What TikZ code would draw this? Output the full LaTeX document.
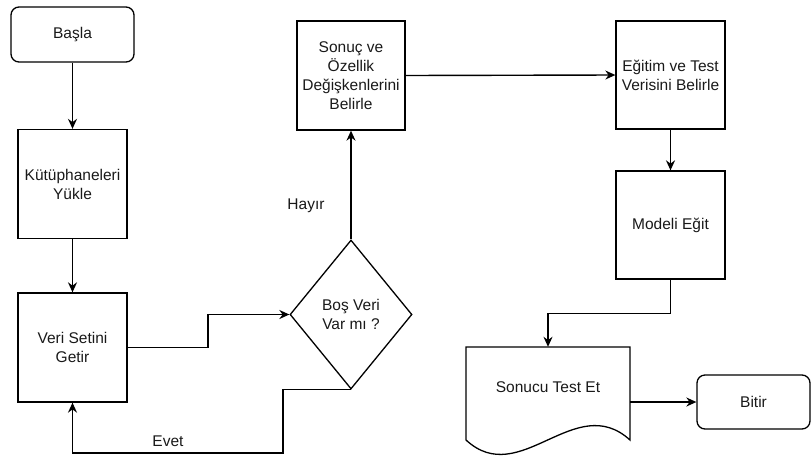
\documentclass[tikz,border=0pt]{standalone}
\usepackage{fontspec}
\setmainfont{Liberation Sans}
\usetikzlibrary{shapes.geometric,arrows.meta}
\begin{document}
\begin{tikzpicture}[x=1pt,y=-1pt,
  every node/.style={font=\fontsize{15.5}{19}\selectfont, text=black!90, align=center, inner sep=0pt},
  box/.style={draw, line width=1.3pt, rectangle, minimum width=109pt, minimum height=109pt},
  term/.style={draw, line width=1.3pt, rectangle, rounded corners=8pt, minimum width=123pt, minimum height=55pt},
  arr/.style={line width=1.4pt, -{Stealth[length=10pt,width=9pt]}},
  ln/.style={line width=1.3pt}]
\useasboundingbox (0,0) rectangle (811,456);
\clip (0,0) rectangle (811,456);
\node[term] (basla) at (72.5,34.5) {Başla};
\node[box] (kut) at (72.5,184) {Kütüphaneleri\\Yükle};
\node[box] (veri) at (72.5,347.5) {Veri Setini\\Getir};
\node[draw, line width=1.3pt, diamond, minimum width=122pt, minimum height=149pt] (dia) at (351,314.5) {Boş Veri\\Var mı ?};
\node[box, minimum width=108pt] (sonuc) at (351,75.5) {Sonuç ve\\Özellik\\Değişkenlerini\\Belirle};
\node[box, minimum height=108pt] (egitim) at (670.5,75) {Eğitim ve Test\\Verisini Belirle};
\node[box, minimum height=108pt] (model) at (670.5,225) {Modeli Eğit};
\node[rectangle, minimum width=164pt, minimum height=110pt] (doc) at (548,402) {};
\draw[ln] (466,440) -- (466,347) -- (630,347) -- (630,440)
  .. controls (575,390) and (520,490) .. (466,440) -- cycle;
\node (doctext) at (548,387) {Sonucu Test Et};
\node[term, minimum width=113pt, minimum height=54pt] (bitir) at (753.5,402) {Bitir};
\coordinate (j1) at (208,314.5);
\coordinate (e1) at (283,453);
\draw[arr] (basla) -- (kut);
\draw[arr] (kut) -- (veri);
\draw[arr] (veri.east) -| (j1) -- (dia.west);
\draw[arr] (dia.south) -| (e1) -| (veri.south);
\node (evet) at (168,441) {Evet};
\draw[arr] (dia.north) -- (sonuc.south);
\node (hayir) at (306,206) {Hayır};
\draw[arr] (sonuc.east) -- (egitim.west);
\draw[arr] (egitim) -- (model);
\draw[arr] (model.south) -- ++(0,34) -| (doc.north);
\draw[arr] (doc.east) -- (bitir.west);
\end{tikzpicture}
\end{document}
